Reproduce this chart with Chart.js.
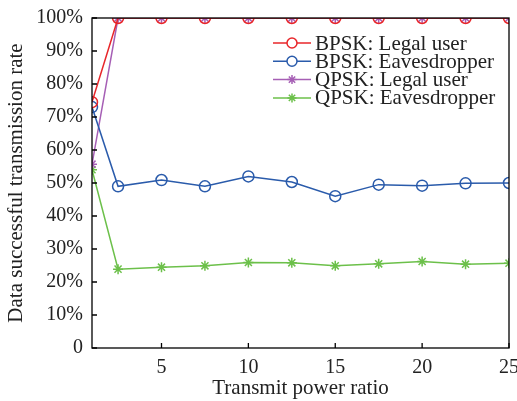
<!DOCTYPE html>
<html>
<head>
<meta charset="utf-8">
<script src="https://cdn.jsdelivr.net/npm/chart.js@4.4.0/dist/chart.umd.min.js"></script>
<style>
html, body { margin: 0; padding: 0; background: #fff; }
#wrap { width: 517px; height: 401px; }
</style>
</head>
<body>
<div id="wrap"><canvas id="c"></canvas></div>
<script>
const powerRatio = [1, 2.5, 5, 7.5, 10, 12.5, 15, 17.5, 20, 22.5, 25];
const bpskLegal = [74.5, 100, 100, 100, 100, 100, 100, 100, 100, 100, 100];
const bpskEave = [73, 49, 50.9, 49, 52, 50.3, 46, 49.5, 49.2, 49.9, 50];
const qpskLegal = [55.7, 100, 100, 100, 100, 100, 100, 100, 100, 100, 100];
const qpskEave = [54, 23.9, 24.5, 24.9, 25.9, 25.8, 24.9, 25.5, 26.2, 25.4, 25.7];
const xTicks = [5, 10, 15, 20, 25];
const yTicks = [0, 10, 20, 30, 40, 50, 60, 70, 80, 90, 100];

const serif = '"Liberation Serif", "Times New Roman", serif';

function pts(arr){
    return arr.map((v, i) => ({ x: powerRatio[i], y: v }));
}

function series(label, data, color, style){
    return {
        label: label,
        data: pts(data),
        borderColor: color,
        backgroundColor: color,
        borderWidth: 1.5,
        pointStyle: style,
        pointRadius: style === 'star' ? 5 : 5.5,
        pointBorderWidth: 1.5,
        pointBackgroundColor: 'rgba(0,0,0,0)',
        tension: 0
    };
}

// frame, inward ticks and inner legend
const framePlugin = {
    id: 'frame',
    afterDatasetsDraw(chart){
        const ctx = chart.ctx;
        const a = chart.chartArea;
        const xs = chart.scales.x, ys = chart.scales.y;
        ctx.save();
        ctx.strokeStyle = '#000';
        ctx.lineWidth = 1.3;
        ctx.strokeRect(a.left, a.top, a.right - a.left, a.bottom - a.top);
        ctx.beginPath();
        yTicks.forEach(t => {
            const py = ys.getPixelForValue(t);
            ctx.moveTo(a.left, py); ctx.lineTo(a.left + 5, py);
        });
        xTicks.forEach(t => {
            const px = xs.getPixelForValue(t);
            ctx.moveTo(px, a.bottom); ctx.lineTo(px, a.bottom - 5);
        });
        ctx.stroke();

        // legend
        ctx.font = '21px ' + serif;
        ctx.textBaseline = 'middle';
        chart.data.datasets.forEach((ds, i) => {
            const y = 43 + i * 18.3;
            const x0 = 273, x1 = 311;
            ctx.strokeStyle = ds.borderColor;
            ctx.lineWidth = 1.5;
            ctx.beginPath(); ctx.moveTo(x0, y); ctx.lineTo(x1, y); ctx.stroke();
            ctx.fillStyle = '#fff';
            Chart.helpers.drawPoint(ctx, {
                pointStyle: ds.pointStyle,
                radius: ds.pointStyle === 'star' ? 4.5 : 5,
                borderWidth: 1.5
            }, (x0 + x1) / 2, y);
            ctx.fillStyle = '#222';
            ctx.fillText(ds.label, 315, y + 1);
        });
        ctx.restore();
    }
};

new Chart(document.getElementById('c'), {
    type: 'line',
    data: {
        datasets: [
            series('BPSK: Legal user', bpskLegal, '#e8262a', 'circle'),
            series('BPSK: Eavesdropper', bpskEave, '#2a5bab', 'circle'),
            series('QPSK: Legal user', qpskLegal, '#a65fb5', 'star'),
            series('QPSK: Eavesdropper', qpskEave, '#6cc04a', 'star')
        ]
    },
    options: {
        responsive: true,
        maintainAspectRatio: false,
        animation: false,
        layout: { padding: { top: 18, right: 8, left: 0, bottom: 0 } },
        plugins: {
            legend: { display: false },
            tooltip: { enabled: false }
        },
        scales: {
            x: {
                type: 'linear',
                min: 1,
                max: 25,
                afterFit(s){ s.height = 53; s.paddingLeft = 0; s.paddingRight = 0; },
                afterBuildTicks(s){ s.ticks = xTicks.map(v => ({ value: v })); },
                grid: { display: false, drawTicks: false },
                border: { display: false },
                ticks: {
                    color: '#222',
                    padding: 8,
                    maxRotation: 0,
                    font: { family: serif, size: 20 }
                },
                title: {
                    display: true,
                    text: 'Transmit power ratio',
                    color: '#222',
                    padding: { top: 0, bottom: 0 },
                    font: { family: serif, size: 21 }
                }
            },
            y: {
                min: 0,
                max: 100,
                afterFit(s){ s.width = 92; s.paddingTop = 0; s.paddingBottom = 0; },
                afterBuildTicks(s){ s.ticks = yTicks.map(v => ({ value: v })); },
                grid: { display: false, drawTicks: false },
                border: { display: false },
                ticks: {
                    color: '#222',
                    padding: 9,
                    font: { family: serif, size: 20 },
                    callback: v => v === 0 ? '0' : v + '%'
                },
                title: {
                    display: true,
                    text: 'Data successful transmission rate',
                    color: '#222',
                    padding: { top: 4, bottom: 0 },
                    font: { family: serif, size: 21 }
                }
            }
        }
    },
    plugins: [framePlugin]
});
</script>
</body>
</html>
